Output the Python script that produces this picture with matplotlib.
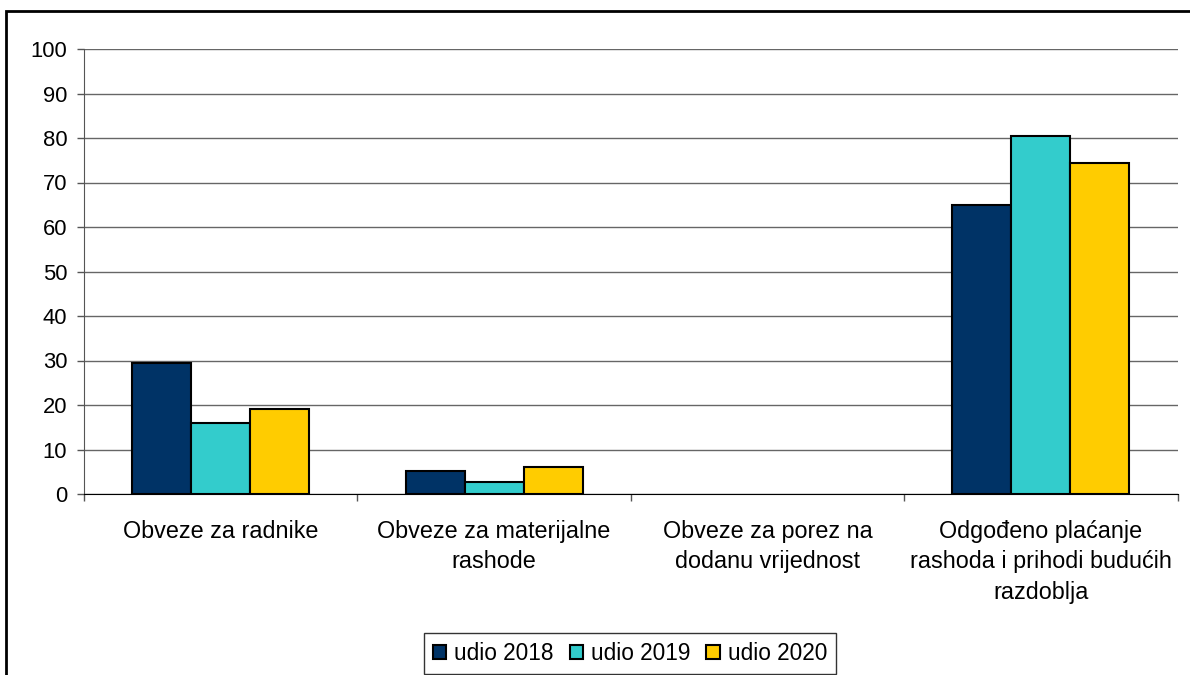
import matplotlib
matplotlib.use("Agg")
import matplotlib.pyplot as plt
from matplotlib.patches import Rectangle
import numpy as np

plt.rcParams['font.family'] = ['Liberation Sans', 'DejaVu Sans']

categories = ["Obveze za radnike",
              "Obveze za materijalne\nrashode",
              "Obveze za porez na\ndodanu vrijednost",
              "Odgođeno plaćanje\nrashoda i prihodi budućih\nrazdoblja"]
series_names = ["udio 2018", "udio 2019", "udio 2020"]
udio_2018 = [29.5, 5.2, 0.0, 64.9]
udio_2019 = [15.9, 2.7, 0.0, 80.5]
udio_2020 = [19.2, 6.1, 0.0, 74.3]
y_ticks = [0, 10, 20, 30, 40, 50, 60, 70, 80, 90, 100]
colors = ["#003366", "#33CCCC", "#FFCC00"]

FS_Y = 15.8
FS_X = 16.8
FS_L = 16.3
fig = plt.figure(figsize=(11.9, 6.75), dpi=100)
ax = fig.add_axes([84/1190, 1 - 494/675, (1177.6 - 84)/1190, (494 - 49)/675])

x = np.arange(len(categories))
w = 0.216
for i, (vals, name, c) in enumerate(zip([udio_2018, udio_2019, udio_2020], series_names, colors)):
    lws = [1.5 if v > 0 else 0 for v in vals]
    ax.bar(x + (i - 1) * w, vals, width=w, color=c, edgecolor="black", linewidth=lws,
           label=name, zorder=3)

ax.set_xlim(-0.5, len(categories) - 0.5)
ax.set_ylim(0, 100)
ax.set_yticks(y_ticks)
ax.tick_params(axis='y', direction='out', length=5, width=1, pad=7, labelsize=FS_Y, color='#555555')
ax.yaxis.grid(True, color='#666666', linewidth=1, zorder=0)
ax.set_xticks(x)
ax.set_xticklabels(categories, fontsize=FS_X, linespacing=1.42, va='top')
ax.tick_params(axis='x', which='major', length=0, pad=18.5)
ax.set_xticks(np.arange(-0.5, len(categories), 1.0), minor=True)
ax.tick_params(axis='x', which='minor', direction='out', length=5, width=1, color='#555555')
for s in ['top', 'right']:
    ax.spines[s].set_visible(False)
ax.spines['left'].set_color('#555555')
ax.spines['bottom'].set_color('black')
ax.spines['bottom'].set_zorder(4)

leg = fig.legend(loc='upper center', bbox_to_anchor=(630/1190, 1 - 633/675), ncol=3,
                 fontsize=FS_L, frameon=True, fancybox=False, edgecolor='black',
                 handlelength=0.6, handleheight=0.6, handletextpad=0.35,
                 columnspacing=0.7, borderpad=0.4, borderaxespad=0)
leg.get_frame().set_linewidth(1.0)

fig.patches.append(Rectangle((6/1190, -0.1), 1.2, 1 - 11/675 + 0.1, transform=fig.transFigure,
                             fill=False, edgecolor='black', linewidth=2, zorder=10))

fig.savefig("out.png", dpi=100)
